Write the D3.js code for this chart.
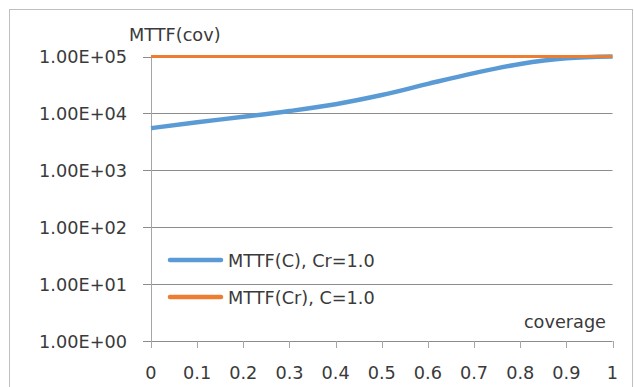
<!DOCTYPE html>
<html>
<head>
<meta charset="utf-8">
<script src="https://cdn.jsdelivr.net/npm/d3@7"></script>
<style>
  body { margin: 0; background: #fff; }
  text { font-family: "DejaVu Sans", sans-serif; fill: #3a3a3a; }
</style>
</head>
<body>
<svg id="chart" width="634" height="387"></svg>
<script>
// coverage values on the x axis
const coverage = [0, 0.1, 0.2, 0.3, 0.4, 0.5, 0.6, 0.7, 0.8, 0.9, 1];
// MTTF(C) with Cr = 1.0
const mttfC = [5500, 7000, 8700, 11000, 14500, 21000, 33000, 51000, 74000, 93000, 100000];
// MTTF(Cr) with C = 1.0, flat
const mttfCr = [100000, 100000, 100000, 100000, 100000, 100000, 100000, 100000, 100000, 100000, 100000];
const yTicks = [1, 10, 100, 1000, 10000, 100000];
const seriesNames = ["MTTF(C), Cr=1.0", "MTTF(Cr), C=1.0"];
const colors = ["#5B9BD5", "#ED7D31"];

const svg = d3.select("#chart");

// outer frame
svg.append("rect")
    .attr("x", 9.5).attr("y", 9.5)
    .attr("width", 623).attr("height", 400)
    .style("fill", "none")
    .style("stroke", "#bfbfbf");

const x = d3.scaleLinear().domain([0, 1]).range([151, 612.5]);
const y = d3.scaleLog().domain([1, 100000]).range([341, 56.5]);

const fmt = v => v.toExponential(2).toUpperCase().replace(/E([+-])(\d)$/, "E$10$2");

// horizontal gridlines + left tick marks
svg.selectAll(".grid")
    .data(yTicks)
    .enter()
    .append("line")
    .attr("class", "grid")
    .attr("x1", 143)
    .attr("x2", x(1))
    .attr("y1", d => Math.round(y(d)) + 0.5)
    .attr("y2", d => Math.round(y(d)) + 0.5)
    .style("stroke", "#8c8c8c")
    .style("stroke-width", 1);

svg.selectAll(".ylab")
    .data(yTicks)
    .enter()
    .append("text")
    .attr("class", "ylab")
    .attr("x", 127)
    .attr("y", d => y(d) + 6.5)
    .attr("text-anchor", "end")
    .style("font-size", "17.7px")
    .text(d => fmt(d));

// vertical axis line
svg.append("line")
    .attr("x1", x(0) + 0.5).attr("x2", x(0) + 0.5)
    .attr("y1", y(100000)).attr("y2", 348)
    .style("stroke", "#a6a6a6");

// x ticks
svg.selectAll(".xtick")
    .data(coverage)
    .enter()
    .append("line")
    .attr("class", "xtick")
    .attr("x1", d => Math.round(x(d)) + 0.5)
    .attr("x2", d => Math.round(x(d)) + 0.5)
    .attr("y1", y(1))
    .attr("y2", 348)
    .style("stroke", "#a6a6a6");

svg.selectAll(".xlab")
    .data(coverage)
    .enter()
    .append("text")
    .attr("class", "xlab")
    .attr("x", d => x(d))
    .attr("y", 379)
    .attr("text-anchor", "middle")
    .style("font-size", "17.7px")
    .text(d => d3.format("")(d));

// titles
svg.append("text")
    .attr("x", 129).attr("y", 41)
    .style("font-size", "17.7px")
    .text("MTTF(cov)");

svg.append("text")
    .attr("x", 606).attr("y", 328)
    .attr("text-anchor", "end")
    .style("font-size", "17.7px")
    .text("coverage");

// lines (blue first so the orange sits on top where they meet)
const line = d3.line()
    .x((d, i) => x(coverage[i]))
    .y(d => y(d))
    .curve(d3.curveMonotoneX);

svg.append("path")
    .datum(mttfC)
    .attr("d", line)
    .style("fill", "none")
    .style("stroke", colors[0])
    .style("stroke-width", 4.5)
    .style("stroke-linecap", "butt");

svg.append("path")
    .datum(mttfCr)
    .attr("d", line)
    .style("fill", "none")
    .style("stroke", colors[1])
    .style("stroke-width", 3);

// legend
const legend = svg.selectAll(".legend")
    .data(seriesNames)
    .enter()
    .append("g")
    .attr("class", "legend")
    .attr("transform", (d, i) => `translate(0, ${260 + i * 37})`);

legend.append("line")
    .attr("x1", 170).attr("x2", 221)
    .attr("y1", 0).attr("y2", 0)
    .style("stroke", (d, i) => colors[i])
    .style("stroke-width", 4.5)
    .style("stroke-linecap", "round");

legend.append("text")
    .attr("x", 228)
    .attr("y", 6.5)
    .style("font-size", "17.7px")
    .text(d => d);
</script>
</body>
</html>
